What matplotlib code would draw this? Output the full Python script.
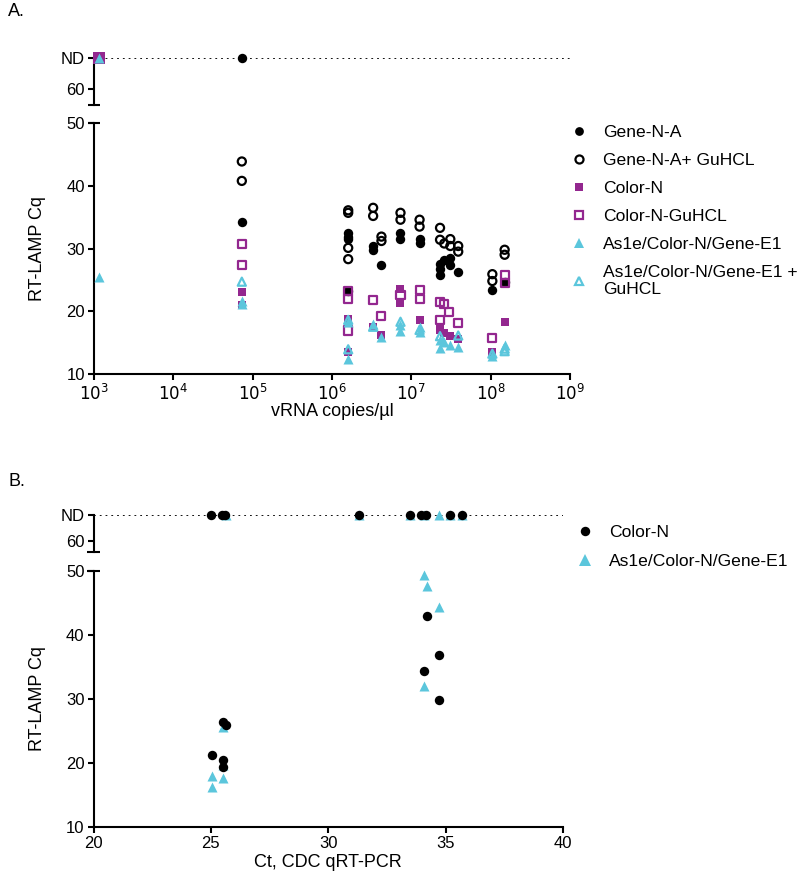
import matplotlib
matplotlib.use('Agg')
import matplotlib.pyplot as plt
from matplotlib.lines import Line2D

plt.rcParams['font.family'] = ['Liberation Sans', 'DejaVu Sans']

PURPLE = '#93278f'
CYAN = '#5bc6dc'
ND = 70  # plotting position for "ND"

# ---------------- Panel A data ----------------
A_xticks = [1e3, 1e4, 1e5, 1e6, 1e7, 1e8, 1e9]
A_xticklabels = ['$10^{3}$', '$10^{4}$', '$10^{5}$', '$10^{6}$', '$10^{7}$', '$10^{8}$', '$10^{9}$']
A_yticks = [10, 20, 30, 40, 50]

geneNA_x = [7.3e4, 1.6e6, 1.6e6, 1.6e6, 1.6e6, 3.3e6, 3.3e6, 4.2e6, 7.3e6, 7.3e6,
            1.27e7, 1.27e7, 2.3e7, 2.3e7, 2.3e7, 2.6e7, 3.1e7, 3.1e7, 3.9e7, 1.05e8, 1.5e8]
geneNA_y = [34.3, 32.4, 31.9, 31.5, 23.2, 30.4, 29.8, 27.4, 32.4, 31.5,
            31.5, 30.8, 27.6, 26.8, 25.7, 28.2, 28.5, 27.4, 26.3, 23.4, 24.7]
geneNA_nd_x = [7.3e4]

geneNAg_x = [7.3e4, 7.3e4, 1.6e6, 1.6e6, 1.6e6, 1.6e6, 3.3e6, 3.3e6, 4.2e6, 4.2e6,
             7.3e6, 7.3e6, 1.27e7, 1.27e7, 2.3e7, 2.3e7, 2.6e7, 3.1e7, 3.1e7, 3.9e7, 3.9e7,
             1.05e8, 1.05e8, 1.5e8, 1.5e8]
geneNAg_y = [43.9, 40.8, 36.1, 35.7, 30.1, 28.3, 36.5, 35.2, 31.9, 31.2,
             35.7, 34.6, 34.6, 33.5, 33.3, 31.4, 30.8, 31.5, 30.4, 30.4, 29.5,
             25.9, 24.8, 29.8, 29.0]

colorN_x = [7.3e4, 7.3e4, 1.6e6, 1.6e6, 3.3e6, 4.2e6, 7.3e6, 7.3e6, 1.27e7,
            2.3e7, 2.3e7, 2.6e7, 3.1e7, 3.9e7, 1.05e8, 1.5e8]
colorN_y = [23.1, 21.0, 18.8, 13.4, 17.5, 16.2, 23.6, 21.3, 18.6,
            17.3, 17.0, 16.5, 16.0, 15.5, 13.5, 18.2]
colorN_nd_x = [1.15e3]

colorNg_x = [7.3e4, 7.3e4, 1.6e6, 1.6e6, 1.6e6, 3.3e6, 4.2e6, 7.3e6, 1.27e7, 1.27e7,
             2.3e7, 2.3e7, 2.6e7, 3.0e7, 3.9e7, 1.05e8, 1.5e8, 1.5e8]
colorNg_y = [30.7, 27.4, 23.2, 21.9, 16.9, 21.8, 19.2, 22.6, 23.4, 22.0,
             21.5, 18.6, 21.2, 19.9, 18.05, 15.7, 25.8, 24.5]

as1e_x = [1.15e3, 7.3e4, 7.3e4, 1.6e6, 1.6e6, 3.3e6, 4.2e6, 7.3e6, 7.3e6, 1.27e7, 1.27e7,
          2.3e7, 2.3e7, 2.6e7, 3.1e7, 3.9e7, 1.05e8, 1.5e8]
as1e_y = [25.5, 21.6, 21.2, 18.3, 12.3, 18.0, 15.9, 17.8, 16.8, 17.5, 16.7,
          15.4, 14.1, 15.0, 14.6, 14.3, 12.9, 14.6]
as1e_nd_x = [1.15e3]

as1eg_x = [7.3e4, 1.6e6, 1.6e6, 3.3e6, 7.3e6, 1.27e7, 2.3e7, 3.9e7, 1.05e8, 1.5e8, 1.5e8]
as1eg_y = [24.7, 18.6, 13.9, 17.5, 18.3, 17.0, 16.0, 16.1, 13.2, 14.0, 13.6]

# ---------------- Panel B data ----------------
B_xticks = [20, 25, 30, 35, 40]
B_yticks = [10, 20, 30, 40, 50]

B_colorN_x = [25.03, 25.53, 25.63, 25.53, 25.53, 34.2, 34.7, 34.1, 34.7]
B_colorN_y = [21.3, 26.45, 25.9, 20.47, 19.3, 43.0, 36.9, 34.3, 29.8]
B_colorN_nd_x = [25.02, 25.47, 25.6, 31.29, 33.5, 33.95, 34.15, 35.2, 35.7]

B_as1e_x = [25.03, 25.03, 25.53, 25.53, 25.53, 34.1, 34.2, 34.7, 34.1]
B_as1e_y = [17.9, 16.2, 17.6, 19.7, 25.6, 49.4, 47.7, 44.4, 32.1]
B_as1e_nd_x = [25.63, 31.29, 33.5, 34.1, 34.7, 35.2, 35.7]

# ---------------- Figure ----------------
W, H = 800, 890
fig = plt.figure(figsize=(W / 100, H / 100), dpi=100)


def rect(x0, x1, ytop, ybot):
    return [x0 / W, 1 - ybot / H, (x1 - x0) / W, (ybot - ytop) / H]


LW = 1.5
TICK_FS = 12
LAB_FS = 13
LEG_FS = 12.6


def style_axes(ax, bottom=True):
    for s in ['top', 'right']:
        ax.spines[s].set_visible(False)
    ax.spines['left'].set_linewidth(LW)
    ax.spines['bottom'].set_linewidth(LW)
    if not bottom:
        ax.spines['bottom'].set_visible(False)
        ax.tick_params(axis='x', which='both', bottom=False, labelbottom=False)
    ax.tick_params(axis='both', which='major', length=4.5, width=LW, labelsize=TICK_FS, pad=2)
    ax.tick_params(axis='both', which='minor', length=0)


def cap(x_px, y_px, half=6.5):
    fig.add_artist(Line2D([(x_px - half) / W, (x_px + half) / W], [1 - y_px / H, 1 - y_px / H],
                          transform=fig.transFigure, color='black', lw=LW, solid_capstyle='butt'))


S_FILLED = 46
S_OPEN = 34
S_SQ = 40
S_TRI = 52

# ---------- Panel A ----------
axA = fig.add_axes(rect(94, 570, 123.3, 373.7))
axAu = fig.add_axes(rect(94, 570, 58.3, 105), sharex=axA)

axA.set_xscale('log')
axA.set_xlim(1e3, 1e9)
axA.set_ylim(10, 50)
axA.set_yticks(A_yticks)
axA.set_xticks(A_xticks)
axA.set_xticklabels(A_xticklabels)
axA.xaxis.set_minor_locator(matplotlib.ticker.NullLocator())
style_axes(axA)
axA.set_xlabel('vRNA copies/µl', fontsize=LAB_FS)
axA.xaxis.set_label_coords(0.5, -0.118)
axA.set_ylabel('RT-LAMP Cq', fontsize=LAB_FS)
axA.yaxis.set_label_coords(-0.101, 0.5)

axAu.set_ylim(54.9, 70)
axAu.set_yticks([60, ND])
axAu.set_yticklabels(['60', 'ND'])
style_axes(axAu, bottom=False)
axAu.axhline(ND, color='black', lw=1.3, ls=(0, (1, 2.2)), zorder=1)

kw = dict(clip_on=False, zorder=3)
axA.scatter(geneNA_x, geneNA_y, s=S_FILLED, marker='o', color='black', lw=0, **kw)
axA.scatter(geneNAg_x, geneNAg_y, s=S_OPEN, marker='o', facecolors='none', edgecolors='black', lw=1.6, **kw)
axA.scatter(colorN_x, colorN_y, s=S_SQ, marker='s', color=PURPLE, lw=0, **kw)
axA.scatter(colorNg_x, colorNg_y, s=S_OPEN, marker='s', facecolors='none', edgecolors=PURPLE, lw=1.6, **kw)
axA.scatter(as1e_x, as1e_y, s=S_TRI, marker='^', color=CYAN, lw=0, **kw)
axA.scatter(as1eg_x, as1eg_y, s=S_OPEN, marker='^', facecolors='none', edgecolors=CYAN, lw=1.6, **kw)

axAu.scatter(geneNA_nd_x, [ND] * len(geneNA_nd_x), s=S_FILLED, marker='o', color='black', lw=0, **kw)
axAu.scatter(colorN_nd_x, [ND] * len(colorN_nd_x), s=S_SQ * 1.6, marker='s', color=PURPLE, lw=0, **kw)
axAu.scatter(as1e_nd_x, [ND] * len(as1e_nd_x), s=S_TRI, marker='^', color=CYAN, lw=0, **kw)

cap(94, 105)
cap(94, 123.3)

handlesA = [
    Line2D([], [], ls='none', marker='o', color='black', markersize=6.3, markeredgewidth=0),
    Line2D([], [], ls='none', marker='o', markerfacecolor='none', markeredgecolor='black', markersize=5.8, markeredgewidth=1.6),
    Line2D([], [], ls='none', marker='s', color=PURPLE, markersize=5.8, markeredgewidth=0),
    Line2D([], [], ls='none', marker='s', markerfacecolor='none', markeredgecolor=PURPLE, markersize=5.8, markeredgewidth=1.6),
    Line2D([], [], ls='none', marker='^', color=CYAN, markersize=6.5, markeredgewidth=0),
    Line2D([], [], ls='none', marker='^', markerfacecolor='none', markeredgecolor=CYAN, markersize=5.8, markeredgewidth=1.6),
]
labelsA = ['Gene-N-A', 'Gene-N-A+ GuHCL', 'Color-N', 'Color-N-GuHCL', 'As1e/Color-N/Gene-E1',
           'As1e/Color-N/Gene-E1 +\nGuHCL']
fig.legend(handlesA, labelsA, loc='upper left', bbox_to_anchor=(570 / W, 1 - 124.5 / H),
           frameon=False, fontsize=LEG_FS, handlelength=1.0, handletextpad=0.87,
           borderpad=0, borderaxespad=0, labelspacing=0.73)

# ---------- Panel B ----------
axB = fig.add_axes(rect(93.5, 563, 571, 827))
axBu = fig.add_axes(rect(93.5, 563, 515, 551.7), sharex=axB)

axB.set_xlim(20, 40)
axB.set_ylim(10, 50)
axB.set_xticks(B_xticks)
axB.set_yticks(B_yticks)
style_axes(axB)
axB.set_xlabel('Ct, CDC qRT-PCR', fontsize=LAB_FS)
axB.xaxis.set_label_coords(0.5, -0.105)
axB.set_ylabel('RT-LAMP Cq', fontsize=LAB_FS)
axB.yaxis.set_label_coords(-0.101, 0.5)

axBu.set_ylim(55.7, 70)
axBu.set_yticks([60, ND])
axBu.set_yticklabels(['60', 'ND'])
style_axes(axBu, bottom=False)
axBu.axhline(ND, color='black', lw=1.3, ls=(0, (1, 2.2)), zorder=1)

axB.scatter(B_as1e_x, B_as1e_y, s=S_TRI, marker='^', color=CYAN, lw=0, clip_on=False, zorder=3)
axB.scatter(B_colorN_x, B_colorN_y, s=S_FILLED, marker='o', color='black', lw=0, clip_on=False, zorder=4)
axBu.scatter(B_as1e_nd_x, [ND] * len(B_as1e_nd_x), s=S_TRI, marker='^', color=CYAN, lw=0, clip_on=False, zorder=3)
axBu.scatter(B_colorN_nd_x, [ND] * len(B_colorN_nd_x), s=S_FILLED, marker='o', color='black', lw=0, clip_on=False, zorder=4)

cap(93.5, 551.7)
cap(93.5, 571)

handlesB = [
    Line2D([], [], ls='none', marker='o', color='black', markersize=6.8, markeredgewidth=0),
    Line2D([], [], ls='none', marker='^', color=CYAN, markersize=8, markeredgewidth=0),
]
fig.legend(handlesB, ['Color-N', 'As1e/Color-N/Gene-E1'], loc='upper left',
           bbox_to_anchor=(576 / W, 1 - 525 / H), frameon=False, fontsize=LEG_FS,
           handlelength=1.0, handletextpad=0.87, borderpad=0, borderaxespad=0, labelspacing=0.75)

fig.text(8 / W, 1 - 12 / H, 'A.', fontsize=13, va='center', ha='left')
fig.text(8 / W, 1 - 481 / H, 'B.', fontsize=13, va='center', ha='left')

fig.savefig('out.png', dpi=100)
